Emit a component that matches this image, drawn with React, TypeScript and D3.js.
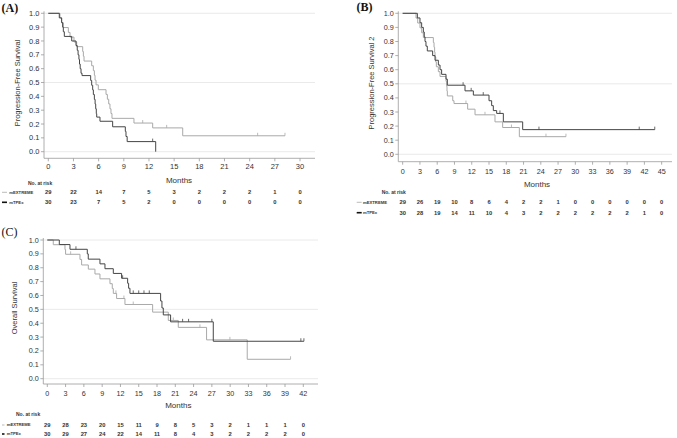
import React from "react";
import * as d3 from "d3";

// ---------- DATA ----------
// Panel A: Progression-Free Survival  [month, survival]
const pfsExtreme: [number, number][] = [
  [0, 1], [1.39, 0.966], [1.59, 0.931], [1.79, 0.897], [2.39, 0.862], [2.59, 0.828],
  [3.06, 0.793], [3.38, 0.759], [4.1, 0.724], [4.18, 0.69], [4.26, 0.655], [5.17, 0.621],
  [5.37, 0.586], [5.49, 0.552], [5.57, 0.517], [5.69, 0.483], [5.96, 0.448], [6.88, 0.414],
  [7.04, 0.379], [7.2, 0.345], [7.35, 0.31], [7.47, 0.276], [7.59, 0.241], [10.21, 0.207],
  [12.44, 0.172], [16.02, 0.115], [28.21, 0.115],
];
const pfsExtremeCens: number[] = [11.25, 14.11, 24.95, 28.21];
const pfsTpex: [number, number][] = [
  [0, 1], [1.31, 0.967], [1.59, 0.933], [1.71, 0.9], [1.79, 0.867], [1.91, 0.833],
  [2.79, 0.8], [3.3, 0.767], [3.45, 0.733], [3.55, 0.7], [3.65, 0.667], [3.72, 0.633],
  [3.8, 0.6], [3.9, 0.567], [4.02, 0.55], [5.05, 0.515], [5.17, 0.48], [5.29, 0.447],
  [5.37, 0.413], [5.49, 0.378], [5.58, 0.344], [5.65, 0.31], [5.72, 0.275], [5.77, 0.25],
  [6.16, 0.22], [7.67, 0.18], [9.18, 0.147], [9.26, 0.11], [9.4, 0.073], [12.8, 0],
];
const pfsTpexCens: number[] = [12.44];

// Panel B: Progression-Free Survival 2
const pfs2Extreme: [number, number][] = [
  [0, 1], [2.32, 0.966], [2.61, 0.931], [3.01, 0.897], [3.3, 0.862], [3.59, 0.828],
  [5.33, 0.793], [5.45, 0.759], [5.55, 0.724], [5.62, 0.69], [5.75, 0.655], [5.85, 0.621],
  [6.2, 0.586], [6.49, 0.552], [7.53, 0.517], [7.65, 0.483], [7.7, 0.448], [7.76, 0.414],
  [8.7, 0.38], [8.92, 0.36], [11.29, 0.32], [12.57, 0.28], [16.04, 0.23], [17.37, 0.19],
  [20.27, 0.125], [28.37, 0.125],
];
const pfs2ExtremeCens: number[] = [11.0, 14.3, 18.9, 24.9, 28.37];
const pfs2Tpex: [number, number][] = [
  [0, 1], [2.55, 0.967], [3.01, 0.933], [3.3, 0.9], [3.59, 0.867], [3.75, 0.833],
  [3.88, 0.8], [4.05, 0.767], [4.28, 0.733], [5.21, 0.7], [5.62, 0.667], [6.2, 0.633],
  [6.49, 0.6], [6.77, 0.567], [7.53, 0.533], [7.76, 0.49], [10.83, 0.45], [12.28, 0.42],
  [15.0, 0.38], [15.46, 0.345], [15.75, 0.31], [16.33, 0.29], [17.49, 0.23], [20.85, 0.175],
  [43.8, 0.175],
];
const pfs2TpexCens: number[] = [10.5, 11.9, 14.0, 16.9, 23.68, 41.1, 43.8];

// Panel C: Overall Survival
const osExtreme: [number, number][] = [
  [0, 1], [0.98, 0.966], [2.9, 0.931], [3.0, 0.897], [5.36, 0.86], [5.63, 0.82],
  [6.73, 0.79], [7.82, 0.755], [8.64, 0.72], [10.28, 0.685], [10.66, 0.65], [10.83, 0.615],
  [11.37, 0.578], [12.74, 0.535], [17.28, 0.48], [19.85, 0.42], [21.49, 0.37], [26.13, 0.28],
  [32.8, 0.14], [39.91, 0.14],
];
const osExtremeCens: number[] = [3.83, 11.26, 12.57, 14.1, 20.67, 25.04, 29.96, 39.91];
const osTpex: [number, number][] = [
  [0, 1], [1.97, 0.967], [3.72, 0.933], [6.56, 0.9], [6.72, 0.862], [8.64, 0.828],
  [9.46, 0.793], [10.83, 0.759], [12.19, 0.724], [13.18, 0.688], [13.34, 0.652], [13.56, 0.615],
  [18.59, 0.56], [18.81, 0.51], [19.03, 0.46], [20.23, 0.41], [27.23, 0.27], [42.1, 0.27],
];
const osTpexCens: number[] = [4.7, 12.36, 14.1, 15.0, 15.86, 16.73, 22.2, 23.18, 27.0, 41.6, 42.1];

// Numbers at risk
const riskA_extreme = [29, 22, 14, 7, 5, 3, 2, 2, 2, 1, 0];
const riskA_tpex = [30, 23, 7, 5, 2, 0, 0, 0, 0, 0, 0];
const riskB_extreme = [29, 26, 19, 10, 8, 6, 4, 2, 2, 1, 0, 0, 0, 0, 0, 0];
const riskB_tpex = [30, 28, 19, 14, 11, 10, 4, 3, 2, 2, 2, 2, 2, 2, 1, 0];
const riskC_extreme = [29, 28, 23, 20, 15, 11, 9, 8, 5, 3, 2, 1, 1, 1, 0];
const riskC_tpex = [30, 29, 27, 24, 22, 14, 11, 8, 4, 3, 2, 2, 2, 2, 0];

const yTicks = d3.range(0, 11).map((i) => i / 10);
const seriesNames = ["mEXTREME", "mTPEx"];

// ---------- STYLE ----------
const LIGHT = "#a9a9a9";
const DARK = "#454545";
const FONT = "'Liberation Sans', Arial, sans-serif";

type PanelCfg = {
  label: string;
  yTitle: string;
  xMax: number;
  x0: number; x1: number;
  y0: number; y1: number;
  yAxisX: number; xAxisY: number; axisEnd: number;
  tickLabelY: number;
  monthsX: number; monthsY: number;
  riskHeadX: number; riskHeadY: number;
  row1Y: number; row2Y: number;
  legGlyphX: number; legGlyphW: number; legLabelX: number;
  yTitleX: number; yTitleY: number;
  labelX: number; labelY: number; labelBold: boolean;
  tickFont: number;
  ext: [number, number][]; extCens: number[];
  tpx: [number, number][]; tpxCens: number[];
  riskExt: number[]; riskTpx: number[];
};

function survAt(data: [number, number][], t: number) {
  let s = data[0][1];
  for (const [tt, ss] of data) if (tt <= t) s = ss;
  return s;
}

function Panel({ c }: { c: PanelCfg }) {
  const x = d3.scaleLinear().domain([0, c.xMax]).range([c.x0, c.x1]);
  const y = d3.scaleLinear().domain([0, 1]).range([c.y0, c.y1]);
  const line = d3
    .line<[number, number]>()
    .x((d) => x(d[0]))
    .y((d) => y(d[1]))
    .curve(d3.curveStepAfter);
  const xTicks = d3.range(0, c.xMax + 0.001, 3);
  const cens = (data: [number, number][], ts: number[], col: string, key: string) =>
    ts.map((t, i) => {
      const s = survAt(data, t);
      return (
        <line key={key + i} x1={x(t)} x2={x(t)} y1={y(s) - 3} y2={y(s)} stroke={col} strokeWidth={0.8} />
      );
    });
  return (
    <g>
      <text x={c.labelX} y={c.labelY} fontFamily="'Liberation Serif', 'Times New Roman', serif"
        fontSize={12} fontWeight={c.labelBold ? "bold" : "normal"} fill="#111">{c.label}</text>
      {/* gridlines */}
      {[0, 0.5, 1].map((g) => (
        <line key={"g" + g} x1={c.yAxisX} x2={c.axisEnd} y1={y(g)} y2={y(g)} stroke="#e4e4e4" strokeWidth={0.8} />
      ))}
      {/* y axis */}
      <line x1={c.yAxisX} x2={c.yAxisX} y1={y(1) - 2} y2={c.xAxisY} stroke="#9a9a9a" strokeWidth={0.8} />
      {yTicks.map((t) => (
        <g key={"yt" + t}>
          <line x1={c.yAxisX - 3} x2={c.yAxisX} y1={y(t)} y2={y(t)} stroke="#9a9a9a" strokeWidth={0.8} />
          <text x={c.yAxisX - 4.5} y={y(t)} dy="0.35em" textAnchor="end" fontFamily={FONT}
            fontSize={c.tickFont} fill="#333">{t.toFixed(1)}</text>
        </g>
      ))}
      <text transform={`translate(${c.yTitleX},${c.yTitleY}) rotate(-90)`} textAnchor="middle"
        dy="0.35em" fontFamily={FONT} fontSize={7.5} fill="#333">{c.yTitle}</text>
      {/* x axis */}
      <line x1={c.yAxisX} x2={c.axisEnd} y1={c.xAxisY} y2={c.xAxisY} stroke="#9a9a9a" strokeWidth={0.8} />
      {xTicks.map((t) => (
        <g key={"xt" + t}>
          <line x1={x(t)} x2={x(t)} y1={c.xAxisY} y2={c.xAxisY + 3} stroke="#9a9a9a" strokeWidth={0.8} />
          <text x={x(t)} y={c.tickLabelY} dy="0.35em" textAnchor="middle" fontFamily={FONT}
            fontSize={c.tickFont} fill="#333">{t}</text>
        </g>
      ))}
      <text x={c.monthsX} y={c.monthsY} dy="0.35em" textAnchor="middle" fontFamily={FONT}
        fontSize={8} fill="#333">Months</text>
      {/* curves */}
      <path d={line(c.ext) || ""} fill="none" stroke={LIGHT} strokeWidth={1} />
      <path d={line(c.tpx) || ""} fill="none" stroke={DARK} strokeWidth={1} />
      {cens(c.ext, c.extCens, LIGHT, "ce")}
      {cens(c.tpx, c.tpxCens, DARK, "ct")}
      {/* risk table */}
      <text x={c.riskHeadX} y={c.riskHeadY} dy="0.35em" fontFamily={FONT} fontSize={5}
        fontWeight="bold" fill="#333">No. at risk</text>
      {[0, 1].map((r) => {
        const yy = r === 0 ? c.row1Y : c.row2Y;
        const vals = r === 0 ? c.riskExt : c.riskTpx;
        return (
          <g key={"row" + r}>
            <line x1={c.legGlyphX} x2={c.legGlyphX + c.legGlyphW} y1={yy} y2={yy}
              stroke={r === 0 ? LIGHT : "#111"} strokeWidth={r === 0 ? 0.8 : 1.6} />
            <text x={c.legLabelX} y={yy} dy="0.35em" fontFamily={FONT} fontSize={4.2}
              fontWeight="bold" fill="#333">{seriesNames[r]}</text>
            {vals.map((v, i) => (
              <text key={i} x={x(xTicks[i])} y={yy} dy="0.35em" textAnchor="middle" fontFamily={FONT}
                fontSize={5.8} fontWeight="bold" fill="#333">{v}</text>
            ))}
          </g>
        );
      })}
    </g>
  );
}

const panels: PanelCfg[] = [
  {
    label: "(A)", yTitle: "Progression-Free Survival", xMax: 30,
    x0: 48.3, x1: 300, y0: 151.7, y1: 13.3, yAxisX: 44, xAxisY: 158.3, axisEnd: 315,
    tickLabelY: 166, monthsX: 179, monthsY: 180, riskHeadX: 28, riskHeadY: 183.3,
    row1Y: 192.3, row2Y: 202.3, legGlyphX: 2, legGlyphW: 5, legLabelX: 9.3,
    yTitleX: 17, yTitleY: 83, labelX: 1.5, labelY: 11.5, labelBold: true, tickFont: 7.5,
    ext: pfsExtreme, extCens: pfsExtremeCens, tpx: pfsTpex, tpxCens: pfsTpexCens,
    riskExt: riskA_extreme, riskTpx: riskA_tpex,
  },
  {
    label: "(B)", yTitle: "Progression-Free Survival 2", xMax: 45,
    x0: 402.67, x1: 661.67, y0: 154.3, y1: 13.3, yAxisX: 398.3, xAxisY: 161.7, axisEnd: 672,
    tickLabelY: 171.3, monthsX: 537, monthsY: 184.3, riskHeadX: 381.7, riskHeadY: 192.3,
    row1Y: 202.3, row2Y: 212.7, legGlyphX: 356.7, legGlyphW: 5, legLabelX: 363,
    yTitleX: 371.7, yTitleY: 83, labelX: 356.5, labelY: 10.5, labelBold: true, tickFont: 7.2,
    ext: pfs2Extreme, extCens: pfs2ExtremeCens, tpx: pfs2Tpex, tpxCens: pfs2TpexCens,
    riskExt: riskB_extreme, riskTpx: riskB_tpex,
  },
  {
    label: "(C)", yTitle: "Overall Survival", xMax: 42,
    x0: 47.3, x1: 303.3, y0: 378.7, y1: 240, yAxisX: 43.3, xAxisY: 384, axisEnd: 318,
    tickLabelY: 393.3, monthsX: 178.3, monthsY: 405, riskHeadX: 16, riskHeadY: 414,
    row1Y: 425, row2Y: 434, legGlyphX: 2, legGlyphW: 2.5, legLabelX: 6.7,
    yTitleX: 14.5, yTitleY: 308, labelX: 1.5, labelY: 235.5, labelBold: false, tickFont: 7.2,
    ext: osExtreme, extCens: osExtremeCens, tpx: osTpex, tpxCens: osTpexCens,
    riskExt: riskC_extreme, riskTpx: riskC_tpex,
  },
];

export default function App() {
  return (
    <svg width={677} height={438} style={{ position: "absolute", left: 0, top: 0, background: "#fff" }}>
      <rect width={677} height={438} fill="#fff" />
      {panels.map((p) => (
        <Panel key={p.label} c={p} />
      ))}
    </svg>
  );
}
